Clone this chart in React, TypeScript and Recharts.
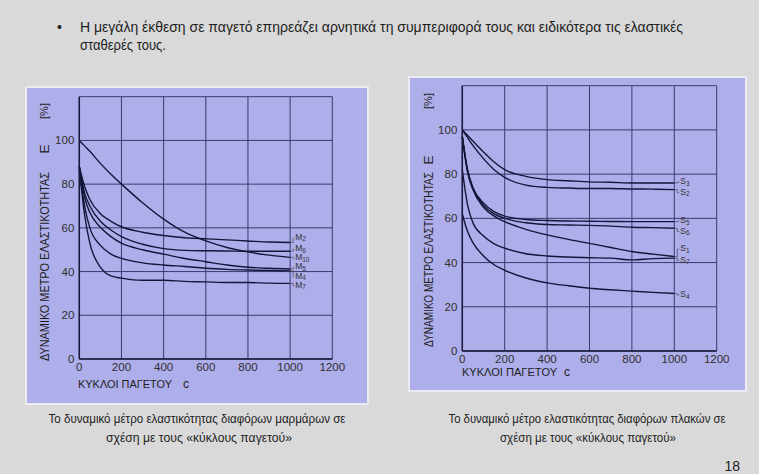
import React from 'react';
import { LineChart, Line, XAxis, YAxis, CartesianGrid, LabelList } from 'recharts';

// ---------- data ----------
const cycles = [0, 25, 50, 100, 150, 200, 300, 400, 500, 600, 700, 800, 900, 1000];

// marbles (left chart)
const M2 = [88, 79, 73, 66.5, 63, 60.5, 58, 56.5, 55.5, 55, 54.5, 54, 53.5, 53.3];
const M6 = [88, 76, 70, 63, 59, 56, 52.5, 50.5, 49.7, 49.5, 49.4, 49.3, 49.3, 49.3];
const M10 = [100, 97.5, 95, 89.5, 84.5, 80, 71.5, 64, 58, 54, 51, 49, 47.5, 46.5];
const M5 = [88, 74, 67, 60.3, 56, 53, 50, 48, 46, 44.5, 43, 42, 41.5, 41.2];
const M4 = [87, 70, 60, 52, 48, 46, 44, 43, 42.3, 41.5, 41, 40.7, 40.5, 40.3];
const M7 = [87, 66, 53, 42, 38, 37, 36, 36, 35.5, 35.3, 35, 35, 34.7, 34.6];

// slabs (right chart)
const S3 = [100, 97.5, 95, 90, 85.5, 82, 79, 77.5, 77, 76.5, 76.3, 76, 76, 76];
const S2 = [100, 96.5, 93, 87, 82, 78.5, 75, 74, 73.7, 73.5, 73.5, 73.3, 73.2, 73];
const S5 = [97, 82, 74, 67, 63, 61, 59.5, 59, 58.8, 58.7, 58.6, 58.5, 58.5, 58.5];
const S6 = [97, 81, 73.5, 66, 62, 60, 58, 57.2, 57, 56.8, 56.5, 56, 55.8, 55.5];
const S1 = [97, 81, 73, 65, 61, 58.5, 55, 52.5, 50.5, 48.7, 46.8, 45, 43.8, 42.7];
const S7 = [82, 66, 58, 52, 48.5, 46.5, 44, 43, 42.5, 42.2, 42, 41.2, 41.8, 42];
const S4 = [62, 54, 49, 43, 39, 36.5, 33, 30.8, 29.5, 28.4, 27.7, 27.1, 26.5, 26];

const marbleNames = ['M2', 'M6', 'M10', 'M5', 'M4', 'M7'];
const marbleSeries = [M2, M6, M10, M5, M4, M7];
const marbleLabelAt = [55.4, 50.2, 46.0, 41.9, 37.6, 33.4];

const slabNames = ['S3', 'S2', 'S5', 'S6', 'S1', 'S7', 'S4'];
const slabSeries = [S3, S2, S5, S6, S1, S7, S4];
const slabLabelAt = [76.4, 71.6, 58.8, 54.0, 46.0, 40.9, 25.3];

const xTicks = [0, 200, 400, 600, 800, 1000, 1200];
const yTicks = [0, 20, 40, 60, 80, 100, 120];

const yTitleText = 'ΔΥΝΑΜΙΚΟ ΜΕΤΡΟ ΕΛΑΣΤΙΚΟΤΗΤΑΣ';
const yTitleUnit = 'Ε';
const yTitlePct = '[%]';
const xTitleText = 'ΚΥΚΛΟΙ ΠΑΓΕΤΟΥ';
const xTitleVar = 'c';

// ---------- styles ----------
const NARROW = "'Liberation Sans Narrow', 'Arial Narrow', 'Liberation Sans', Arial, sans-serif";
const PURPLE = '#aeaeea';
const GRID = '#3a3a70';
const CURVE = '#15153a';
const TEXT = '#1e1e1e';

function buildRows(names: string[], series: number[][]) {
  return cycles.map((c, i) => {
    const r: any = { c };
    names.forEach((n, k) => {
      r[n] = series[k][i];
    });
    return r;
  });
}

type PanelCfg = {
  left: number; top: number; width: number; height: number;
  mTop: number; mRight: number; xH: number; yW: number;
  xt: { x: number; y: number; len: number; cx: number };
  yt: { cx: number; bottom: number; len: number; eY: number; pctY: number };
  labelDx: number;
};

function Panel({ cfg, names, series, labelAt }: { cfg: PanelCfg; names: string[]; series: number[][]; labelAt: number[] }) {
  const rows = buildRows(names, series);
  const plotH = cfg.height - cfg.mTop - cfg.xH;
  const pxPer = plotH / 120;
  const last = cycles.length - 1;

  const xTitle = () => (
    <text x={cfg.xt.x} y={cfg.xt.y} dominantBaseline="central" fontFamily={NARROW} fontSize={11} fill={TEXT}>
      <tspan textLength={cfg.xt.len} lengthAdjust="spacingAndGlyphs">{xTitleText}</tspan>
      <tspan x={cfg.xt.cx} textAnchor="middle" fontSize={12}>{xTitleVar}</tspan>
    </text>
  );

  const yTitle = () => {
    const { cx, bottom, len, eY, pctY } = cfg.yt;
    return (
      <text x={cx} y={bottom} transform={`rotate(-90, ${cx}, ${bottom})`} dominantBaseline="central"
        fontFamily={NARROW} fontSize={13.5} fill={TEXT}>
        <tspan textLength={len} lengthAdjust="spacingAndGlyphs">{yTitleText}</tspan>
        <tspan x={cx + (bottom - eY)} textAnchor="middle">{yTitleUnit}</tspan>
        <tspan x={cx + (bottom - pctY)} textAnchor="middle" fontSize={11}>{yTitlePct}</tspan>
      </text>
    );
  };

  const endLabel = (name: string, at: number) => (props: any) => {
    const vb = props.viewBox || {};
    const x = props.x ?? vb.x;
    const y = props.y ?? vb.y;
    if (props.index !== last || x == null || y == null) return null;
    const v = Number(props.value);
    const ly = y + (v - at) * pxPer;
    const letter = name.slice(0, 1);
    const sub = name.slice(1);
    return (
      <g>
        <polyline points={`${x},${y} ${x + 3},${y} ${x + 3},${ly} ${x + cfg.labelDx - 1},${ly}`}
          fill="none" stroke="#4a4a5a" strokeWidth={0.7} />
        <text x={x + cfg.labelDx} y={ly - 1} dominantBaseline="central" fontFamily={NARROW} fontSize={8.5} fill="#333">
          {letter}
          <tspan fontSize={6.5} dy={1.5}>{sub}</tspan>
        </text>
      </g>
    );
  };

  return (
    <div style={{ position: 'absolute', left: cfg.left, top: cfg.top, width: cfg.width, height: cfg.height,
      background: PURPLE, boxShadow: '0 0 0 2px #ebebf1' }}>
      <LineChart width={cfg.width} height={cfg.height} data={rows}
        margin={{ top: cfg.mTop, right: cfg.mRight, bottom: 0, left: 0 }}>
        <CartesianGrid stroke={GRID} strokeWidth={1} />
        <XAxis type="number" dataKey="c" domain={[0, 1200]} ticks={xTicks} interval={0} height={cfg.xH}
          tickLine={false} tickSize={0} tickMargin={4}
          axisLine={{ stroke: '#18183a', strokeWidth: 1.5 }}
          tick={{ fontSize: 11.5, fill: '#303030', fontFamily: NARROW }} label={xTitle} />
        <YAxis type="number" domain={[0, 120]} ticks={yTicks} interval={0} width={cfg.yW}
          tickLine={false} tickSize={0} tickMargin={5}
          axisLine={{ stroke: '#18183a', strokeWidth: 1.5 }}
          tickFormatter={(v: number) => (v === 120 ? '' : String(v))}
          tick={{ fontSize: 11.5, fill: '#303030', fontFamily: NARROW }} label={yTitle} />
        {names.map((n, k) => (
          <Line key={n} type="monotone" dataKey={n} stroke={CURVE} strokeWidth={1.4} dot={false}
            isAnimationActive={false}>
            <LabelList dataKey={n} content={endLabel(n, labelAt[k])} />
          </Line>
        ))}
      </LineChart>
    </div>
  );
}

const leftCfg: PanelCfg = {
  left: 27, top: 88, width: 340, height: 315,
  mTop: 8.7, mRight: 34.7, xH: 44, yW: 52.3,
  xt: { x: 51, y: 296, len: 94, cx: 159 },
  yt: { cx: 17, bottom: 273, len: 189, eY: 61, pctY: 23 },
  labelDx: 5,
};

const rightCfg: PanelCfg = {
  left: 410, top: 78, width: 335, height: 312,
  mTop: 7.7, mRight: 28.3, xH: 39, yW: 52.3,
  xt: { x: 52, y: 294, len: 95, cx: 157 },
  yt: { cx: 18, bottom: 269, len: 175, eY: 82, pctY: 23 },
  labelDx: 6,
};

export default function App() {
  return (
    <div style={{ position: 'absolute', left: 0, top: 0, width: 759, height: 474, background: '#d9d9d9', overflow: 'hidden' }}>
      <svg width={759} height={474} style={{ position: 'absolute', left: 0, top: 0 }}>
        <text x={57} y={32} fontFamily={NARROW} fontSize={14} fill={TEXT}>•</text>
        <text x={80} y={32} fontFamily={NARROW} fontSize={15} fill={TEXT} textLength={603} lengthAdjust="spacingAndGlyphs">
          Η μεγάλη έκθεση σε παγετό επηρεάζει αρνητικά τη συμπεριφορά τους και ειδικότερα τις ελαστικές
        </text>
        <text x={80} y={50} fontFamily={NARROW} fontSize={15} fill={TEXT} textLength={86} lengthAdjust="spacingAndGlyphs">
          σταθερές τους.
        </text>
        <text x={197} y={423} textAnchor="middle" fontFamily={NARROW} fontSize={12.5} fill={TEXT} textLength={297} lengthAdjust="spacingAndGlyphs">
          Το δυναμικό μέτρο ελαστικότητας διαφόρων μαρμάρων σε
        </text>
        <text x={199} y={442} textAnchor="middle" fontFamily={NARROW} fontSize={12.5} fill={TEXT} textLength={186} lengthAdjust="spacingAndGlyphs">
          σχέση με τους «κύκλους παγετού»
        </text>
        <text x={587} y={423} textAnchor="middle" fontFamily={NARROW} fontSize={12.5} fill={TEXT} textLength={277} lengthAdjust="spacingAndGlyphs">
          Το δυναμικό μέτρο ελαστικότητας διαφόρων πλακών σε
        </text>
        <text x={588} y={442} textAnchor="middle" fontFamily={NARROW} fontSize={12.5} fill={TEXT} textLength={176} lengthAdjust="spacingAndGlyphs">
          σχέση με τους «κύκλους παγετού»
        </text>
        <text x={740} y={471} textAnchor="end" fontFamily={NARROW} fontSize={14} fill={TEXT}>18</text>
      </svg>
      <Panel cfg={leftCfg} names={marbleNames} series={marbleSeries} labelAt={marbleLabelAt} />
      <Panel cfg={rightCfg} names={slabNames} series={slabSeries} labelAt={slabLabelAt} />
    </div>
  );
}
